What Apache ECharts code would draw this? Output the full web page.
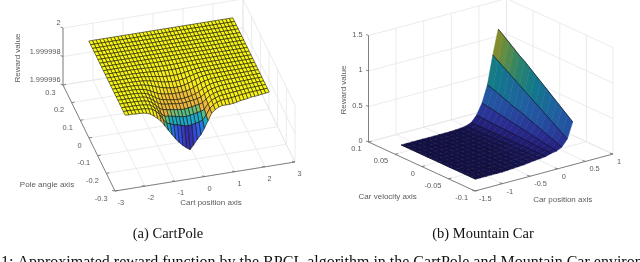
<!DOCTYPE html>
<html><head><meta charset="utf-8">
<style>html,body{margin:0;padding:0;background:#fff}#c{width:640px;height:262px}</style>
<script src="https://cdn.jsdelivr.net/npm/echarts@6/dist/echarts.min.js"></script>
</head><body><div id="c"></div>
<script>
// ---------- CartPole data ----------
const cartXTicks = [-3,-2,-1,0,1,2,3];
const cartYTicks = [-0.3,-0.2,-0.1,0,0.1,0.2,0.3];
const cartZTicks = [1.999996,1.999998,2];
const cartZTickLabels = ['1.999996','1.999998','2'];
const cartXRange = [-2.4,2.4];
const cartYRange = [-0.21,0.21];
// Drop of the reward below 2, in millionths. Rows run front (low angle) to back, columns low to high position. Missing cells are on the plateau.
const cartDrop = [
[0,.02,.01,.04,.04,.06,.11,.21,.39,.6,.84,1.19,1.54,1.89,2.24,2.52,2.77,2.98,3.15,2.87,2.52,2.24,1.82,1.33,.84,.63,.49,.42,.42,.42,.39,.35,.28,.25,.21,.15,.14,.11,.07,.04,0],
[0,0,.01,.02,.03,.04,.06,.1,.17,.35,.6,1.0,1.3,1.4,1.5,1.55,1.62,1.7,1.75,1.7,1.65,1.6,1.5,1.2,.75,.55,.4,.33,.3,.28,.25,.22,.18,.15,.12,.09,.07,.05,.03,.02,0],
[0,0,.01,.01,.02,.03,.05,.08,.15,.32,.55,.88,1.08,1.12,1.17,1.22,1.27,1.32,1.35,1.3,1.25,1.2,1.15,1.05,.7,.5,.37,.29,.25,.22,.19,.16,.14,.12,.09,.07,.05,.04,.02,.01,0],
[0,0,0,.01,.01,.02,.04,.07,.13,.28,.5,.75,.88,.92,.96,1.0,1.04,1.07,1.09,1.05,1.0,.96,.92,.85,.62,.44,.32,.25,.2,.17,.15,.13,.11,.09,.07,.05,.04,.03,.01,.01,0],
[0,0,0,0,.01,.02,.03,.06,.11,.24,.43,.62,.75,.8,.83,.86,.89,.92,.93,.9,.86,.83,.78,.7,.52,.37,.26,.2,.15,.12,.1,.09,.08,.06,.05,.04,.03,.02,.01,0,0],
[0,0,0,0,0,.01,.02,.05,.1,.2,.36,.52,.66,.74,.79,.83,.87,.89,.9,.87,.83,.78,.7,.58,.42,.3,.2,.14,.11,.09,.07,.06,.05,.04,.03,.03,.02,.01,.01,0,0],
[0,0,0,0,0,.01,.02,.04,.08,.15,.27,.4,.52,.6,.65,.69,.71,.72,.72,.7,.67,.61,.52,.4,.28,.19,.13,.09,.07,.06,.05,.04,.03,.03,.02,.02,.01,.01,0,0,0],
[0,0,0,0,0,0,.01,.02,.04,.08,.14,.22,.31,.39,.46,.52,.56,.58,.58,.56,.51,.44,.35,.25,.16,.1,.07,.05,.04,.04,.03,.03,.02,.02,.02,.01,.01],
[0,0,0,0,0,0,.01,.01,.03,.05,.08,.13,.19,.25,.31,.37,.4,.42,.42,.41,.37,.31,.24,.17,.11,.07,.05,.04,.03,.03,.02,.02,.02,.01,.01,.01],
[0,0,0,0,0,0,0,.01,.02,.03,.05,.08,.12,.16,.2,.24,.27,.28,.28,.27,.24,.2,.15,.11,.07,.05,.03,.03,.02,.02,.02,.01,.01,.01,.01],
[0,0,0,0,0,0,0,0,.01,.02,.03,.04,.06,.08,.1,.12,.13,.14,.14,.13,.12,.1,.08,.05,.04,.02,.02,.01,.01,.01,.01,.01],
[0,0,0,0,0,0,0,0,0,.01,.01,.02,.03,.04,.05,.06,.07,.07,.07,.07,.06,.05,.04,.03,.02,.01,.01,.01],
[0,0,0,0,0,0,0,0,0,0,0,.01,.01,.01,.02,.02,.02,.02,.02,.02,.02,.01,.01,.01],
[],[],[],[],[],[],[],[]
];
// ---------- Mountain Car data ----------
const carXTicks = [-1.5,-1,-0.5,0,0.5,1];
const carXTickLabels = ['-1.5','-1','-0.5','0','0.5','1'];
const carYTicks = [-0.1,-0.05,0,0.05,0.1];
const carZTicks = [0,0.5,1,1.5];
const carXRange = [-1.2,0.56];
const carYRange = [-0.07,0.07];
// Reward by position node (low to high), each listed front (low velocity) to back. Missing cells are 0.
const carReward = [
[],[],[],[],[],[],
[.005,.005,.004,.004,.004,.003,.003,.003,.002,.002,.002,.001,.001,.001,0],
[.01,.009,.009,.008,.007,.006,.006,.005,.004,.004,.003,.002,.002,.001,.001],
[.015,.014,.013,.012,.011,.01,.009,.008,.007,.006,.005,.004,.003,.002,.001],
[.02,.018,.017,.015,.014,.012,.011,.009,.008,.007,.005,.004,.003,.002,.001],
[.03,.028,.026,.024,.022,.02,.018,.016,.014,.012,.01,.009,.008,.006,.005],
[.04,.038,.035,.033,.03,.028,.025,.023,.02,.018,.016,.014,.013,.011,.01],
[.046,.044,.042,.04,.038,.036,.034,.032,.03,.028,.026,.025,.023,.021,.02],
[.055,.055,.055,.055,.054,.054,.053,.053,.052,.052,.052,.051,.051,.05,.05],
[.077,.081,.085,.09,.094,.098,.102,.106,.11,.113,.117,.121,.125,.13,.135],
[.09,.104,.118,.13,.145,.16,.175,.188,.2,.215,.23,.245,.26,.272,.285],
[.127,.155,.183,.21,.24,.27,.30,.33,.36,.38,.41,.44,.47,.495,.52],
[.22,.27,.32,.37,.42,.47,.52,.57,.62,.67,.72,.77,.82,.87,.92],
[.44,.50,.56,.62,.68,.74,.80,.86,.92,.98,1.03,1.09,1.15,1.21,1.265]
];
// ---------- Projections: where the box corners fall on the page ----------
const W=640,H=262;
function projector(o,xr,yr,zr,ex,ey,ez){
  return (x,y,z)=>{
    const a=(x-xr[0])/(xr[1]-xr[0]), b=(y-yr[0])/(yr[1]-yr[0]), c=(z-zr[0])/(zr[1]-zr[0]);
    return [o[0]+a*ex[0]+b*ey[0]+c*ez[0], o[1]+a*ex[1]+b*ey[1]+c*ez[1]];
  };
}
const XR1=[-3,3],YR1=[-0.3,0.3],ZR1=[1.999996,2];
const P1=projector([115,191],XR1,YR1,ZR1,[180,-29],[-52,-106],[0,-57]);
const XR2=[-1.5,1],YR2=[-0.1,0.1],ZR2=[0,1.5];
const P2=projector([475,191],XR2,YR2,ZR2,[138,-37],[-106.5,-49],[0,-106.5]);

function lerpStops(stops,t){
  t=Math.max(stops[0][0],Math.min(stops[stops.length-1][0],t));
  for(let i=1;i<stops.length;i++){ if(t<=stops[i][0]){
    const [a,ca]=stops[i-1],[b,cb]=stops[i],f=(t-a)/(b-a||1);
    const c=[0,1,2].map(k=>Math.round(ca[k]+(cb[k]-ca[k])*f));
    return `rgb(${c[0]},${c[1]},${c[2]})`;
  }}
  const l=stops[stops.length-1][1];return `rgb(${l[0]},${l[1]},${l[2]})`;
}
const cartStops=[[0,[250,248,18]],[.6,[250,232,30]],[.75,[243,200,50]],[.9,[238,185,60]],[1.1,[235,180,65]],[1.17,[130,190,110]],[1.35,[80,190,135]],[1.45,[30,175,190]],[1.8,[25,165,210]],[2.0,[35,120,230]],[2.6,[50,80,235]],[3.15,[55,40,165]]];
const carStops=[[0,[20,18,72]],[.03,[24,22,85]],[.1,[33,30,115]],[.22,[42,45,145]],[.44,[36,80,160]],[.6,[32,95,160]],[.85,[18,120,140]],[1.0,[40,130,110]],[1.15,[90,140,70]],[1.265,[140,140,40]]];

const TXT='#5a5a5a', FONT='"Liberation Sans",Arial,sans-serif';
const GRID='#e6e6e6', AXIS='#666';

// ---------- Build mark lists from the data ----------
function nodes(r,n){const o=[];for(let i=0;i<n;i++)o.push(r[0]+(r[1]-r[0])*i/(n-1));return o;}
const cXs=nodes(cartXRange,41), cYs=nodes(cartYRange,cartDrop.length);
const cartZ=(r,c)=>2-((cartDrop[r][c]??0)*1e-6);
const cartFaces=[];
for(let r=cartDrop.length-2;r>=0;r--)for(let c=cXs.length-2;c>=0;c--){
  cartFaces.push({pts:[P1(cXs[c],cYs[r],cartZ(r,c)),P1(cXs[c+1],cYs[r],cartZ(r,c+1)),P1(cXs[c+1],cYs[r+1],cartZ(r+1,c+1)),P1(cXs[c],cYs[r+1],cartZ(r+1,c))],
    fill:lerpStops(cartStops,((cartDrop[r][c]??0)+(cartDrop[r][c+1]??0))/2)});
}
const nY2=15;
const aXs=nodes(carXRange,carReward.length), aYs=nodes(carYRange,nY2);
const carZ=(i,j)=>carReward[i][j]??0;
const carFaces=[];
for(let i=carReward.length-2;i>=0;i--)for(let j=nY2-2;j>=0;j--){
  const a=[carZ(i,j),carZ(i+1,j),carZ(i+1,j+1),carZ(i,j+1)];
  const fill=lerpStops(carStops,(a[1]+a[2])/2);
  carFaces.push({pts:[P2(aXs[i],aYs[j],a[0]),P2(aXs[i+1],aYs[j],a[1]),P2(aXs[i+1],aYs[j+1],a[2]),P2(aXs[i],aYs[j+1],a[3])],fill});
}
const carLines=carReward.map((_,i)=>aYs.map((y,j)=>P2(aXs[i],y,carZ(i,j))));

// ---------- Box: walls, floor, axes, labels ----------
function boxMarks(P,xr,yr,zr,xt,yt,zt,cfg){
  const L=[],A=[],T=[];
  for(const x of xt){ L.push({a:P(x,yr[0],zr[0]),b:P(x,yr[1],zr[0])}); L.push({a:P(x,yr[1],zr[0]),b:P(x,yr[1],zr[1])}); }
  for(const y of yt){ L.push({a:P(xr[0],y,zr[0]),b:P(xr[1],y,zr[0])}); L.push({a:P(xr[1],y,zr[0]),b:P(xr[1],y,zr[1])}); }
  for(const z of zt){ L.push({a:P(xr[0],yr[1],z),b:P(xr[1],yr[1],z)}); L.push({a:P(xr[1],yr[1],z),b:P(xr[1],yr[0],z)}); }
  A.push({a:P(xr[0],yr[0],zr[0]),b:P(xr[1],yr[0],zr[0])});
  A.push({a:P(xr[0],yr[0],zr[0]),b:P(xr[0],yr[1],zr[0])});
  A.push({a:P(xr[0],yr[1],zr[0]),b:P(xr[0],yr[1],zr[1])});
  xt.forEach((x,i)=>{const p=P(x,yr[0],zr[0]);A.push({a:p,b:[p[0]-cfg.tick[0],p[1]-cfg.tick[1]]});
    T.push({text:cfg.xl[i],x:p[0]+cfg.xo[0],y:p[1]+cfg.xo[1],align:cfg.xa,fs:7.4});});
  yt.forEach((y,i)=>{const p=P(xr[0],y,zr[0]);A.push({a:p,b:[p[0]+cfg.tick[0],p[1]-.6]});
    T.push({text:cfg.yl[i],x:p[0]+cfg.yo[0],y:p[1]+cfg.yo[1],align:'right',fs:7.4});});
  zt.forEach((z,i)=>{const p=P(xr[0],yr[1],z);A.push({a:p,b:[p[0]-2.5,p[1]-1]});
    T.push({text:cfg.zl[i],x:p[0]+cfg.zo[0],y:p[1]+cfg.zo[1],align:'right',fs:7.4});});
  return {L,A,T};
}
const b1=boxMarks(P1,XR1,YR1,ZR1,cartXTicks,cartYTicks,cartZTicks,{tick:[3,0.5],xl:cartXTicks.map(String),yl:cartYTicks.map(String),zl:cartZTickLabels,xo:[2.5,12],xa:'left',yo:[-7.5,7.5],zo:[-2.5,-5]});
const b2=boxMarks(P2,XR2,YR2,ZR2,carXTicks,carYTicks,carZTicks,{tick:[3,0.8],xl:carXTickLabels,yl:carYTicks.map(String),zl:carZTicks.map(String),xo:[4,8],xa:'left',yo:[-7,7],zo:[-6,-1]});
b1.T.push({text:'Cart position axis',x:211,y:203,align:'center',fs:8},{text:'Pole angle axis',x:47,y:184.7,align:'center',fs:8},{text:'Reward value',x:18,y:58,align:'center',fs:8,rot:true});
b2.T.push({text:'Car position axis',x:562.7,y:200,align:'center',fs:8},{text:'Car velocity axis',x:387.7,y:197,align:'center',fs:8},{text:'Reward value',x:344,y:90,align:'center',fs:8,rot:true});
const gridLines=[...b1.L,...b2.L], axisLines=[...b1.A,...b2.A], labels=[...b1.T,...b2.T];

const dummy=a=>a.map(()=>[0,0]);
const base={type:'custom',coordinateSystem:'cartesian2d',silent:true,clip:false,animation:false};
const seg=(api,s,stroke,w)=>{const a=api.coord(s.a),b=api.coord(s.b);return {type:'line',shape:{x1:a[0],y1:a[1],x2:b[0],y2:b[1]},style:{stroke,lineWidth:w,fill:null}};};
const poly=(api,pts,style)=>({type:'polygon',shape:{points:pts.map(p=>api.coord(p))},style});
const serif={fontFamily:'"Liberation Serif",serif',fontWeight:'normal',color:'#111'};

const option={
  animation:false,backgroundColor:'#fff',
  grid:{left:0,right:0,top:0,bottom:0},
  xAxis:{type:'value',min:0,max:W,show:false},
  yAxis:{type:'value',min:0,max:H,inverse:true,show:false},
  title:[
    {text:'(a) CartPole',left:168,top:227,textAlign:'center',textStyle:{...serif,fontSize:14.5},padding:0},
    {text:'(b) Mountain Car',left:483,top:227,textAlign:'center',textStyle:{...serif,fontSize:14.5},padding:0},
    {text:'1: Approximated reward function by the RPCL algorithm in the CartPole and Mountain Car environments.',left:1,top:255,textStyle:{...serif,fontSize:16},padding:0}
  ],
  series:[
    {...base,data:dummy(gridLines),renderItem:(p,api)=>seg(api,gridLines[p.dataIndex],GRID,.8)},
    {...base,data:dummy(axisLines),renderItem:(p,api)=>seg(api,axisLines[p.dataIndex],AXIS,.8)},
    {...base,data:dummy(cartFaces),renderItem:(p,api)=>{const f=cartFaces[p.dataIndex];return poly(api,f.pts,{fill:f.fill,stroke:'rgba(20,20,10,.85)',lineWidth:.7});}},
    {...base,data:dummy(carFaces),renderItem:(p,api)=>{const f=carFaces[p.dataIndex];return poly(api,f.pts,{fill:f.fill,stroke:f.fill,lineWidth:.5});}},
    {...base,data:dummy(carLines),renderItem:(p,api)=>({type:'polyline',shape:{points:carLines[p.dataIndex].map(q=>api.coord(q))},style:{stroke:'rgba(5,5,20,.9)',lineWidth:.7,fill:null}})},
    {...base,data:dummy(labels),renderItem:(p,api)=>{const t=labels[p.dataIndex],q=api.coord([t.x,t.y]);
      return {type:'text',x:q[0],y:q[1],rotation:t.rot?Math.PI/2:0,style:{text:t.text,x:0,y:0,fill:TXT,font:t.fs+'px '+FONT,align:t.align,verticalAlign:'middle'}};}}
  ]
};
echarts.init(document.getElementById('c'),null,{renderer:'canvas'}).setOption(option);
</script></body></html>
